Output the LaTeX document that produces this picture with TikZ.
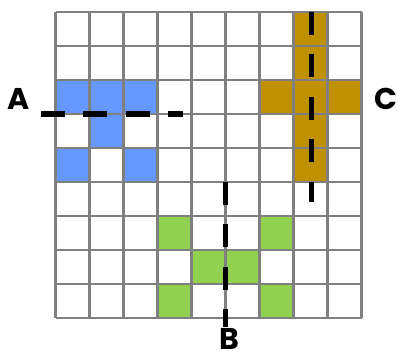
\documentclass[tikz,border=0pt]{standalone}
\usepackage{fontspec}
\setmainfont{Poppins}
\definecolor{cblue}{HTML}{6699FF}
\definecolor{cgold}{HTML}{BF9000}
\definecolor{cgreen}{HTML}{92D050}
\definecolor{cgrid}{HTML}{808080}
\begin{document}
\begin{tikzpicture}[x=1pt,y=-1pt,
  cell/.style={fill=#1,draw=none},
  gridline/.style={draw=cgrid,line width=2.5pt},
  cutline/.style={draw=black,line width=5.5pt,line cap=butt},
  lbl/.style={font=\fontsize{30}{30}\selectfont\bfseries,inner sep=0pt}]
\useasboundingbox (0,0) rectangle (397,352);
\def\cs{34}
% colored cells (col,row)
\foreach \c/\r in {0/2,1/2,2/2,1/3,0/4,2/4}
  \fill[cblue] (55.5+\c*\cs,12+\r*\cs) rectangle ++(\cs,\cs);
\foreach \c/\r in {7/0,7/1,7/2,7/3,7/4,6/2,8/2}
  \fill[cgold] (55.5+\c*\cs,12+\r*\cs) rectangle ++(\cs,\cs);
\foreach \c/\r in {3/6,6/6,4/7,5/7,3/8,6/8}
  \fill[cgreen] (55.5+\c*\cs,12+\r*\cs) rectangle ++(\cs,\cs);
% grid
\foreach \i in {0,...,9}{
  \draw[gridline] (55.5+\i*\cs,12) -- (55.5+\i*\cs,318);
  \draw[gridline] (55.5,12+\i*\cs) -- (361.5,12+\i*\cs);
}
% labels
\node[lbl] (A) at (19,99) {A};
\node[lbl] (C) at (386,99) {C};
\node[lbl] (B) at (229,339) {B};
% cut lines
\coordinate (a1) at (40.7,114);
\coordinate (a2) at (183,114);
\coordinate (c1) at (311.5,12);
\coordinate (c2) at (311.5,202);
\coordinate (b1) at (225.5,182);
\coordinate (b2) at (225.5,327);
\draw[cutline,dash pattern=on 24pt off 18.5pt] (a1) -- (a2);
\draw[cutline,dash pattern=on 23pt off 19.5pt] (c1) -- (c2);
\draw[cutline,dash pattern=on 23pt off 19.5pt] (b1) -- (b2);
\end{tikzpicture}
\end{document}
